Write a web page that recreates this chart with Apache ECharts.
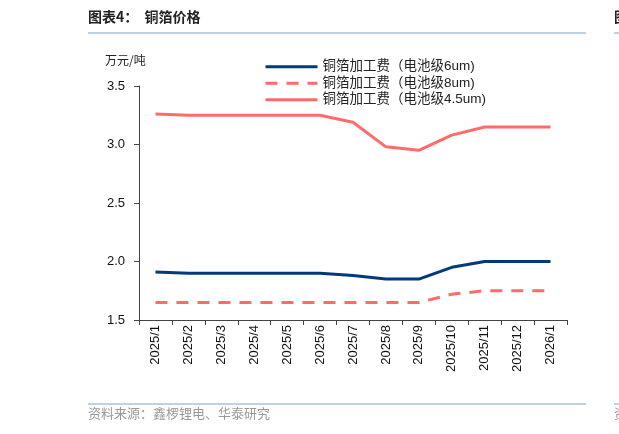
<!DOCTYPE html>
<html>
<head>
<meta charset="utf-8">
<script src="https://cdn.jsdelivr.net/npm/echarts@6/dist/echarts.min.js"></script>
<style>
  html, body { margin: 0; padding: 0; background: #fff; }
  #chart { width: 619px; height: 434px; }
</style>
</head>
<body>
<div id="chart"></div>
<script>
// 月份
const months = ['2025/1', '2025/2', '2025/3', '2025/4', '2025/5', '2025/6', '2025/7',
    '2025/8', '2025/9', '2025/10', '2025/11', '2025/12', '2026/1'];

// 铜箔加工费，万元/吨
const fee6um = [1.91, 1.90, 1.90, 1.90, 1.90, 1.90, 1.88, 1.85, 1.85, 1.95, 2.00, 2.00, 2.00];
const fee8um = [1.65, 1.65, 1.65, 1.65, 1.65, 1.65, 1.65, 1.65, 1.65, 1.72, 1.75, 1.75, 1.75];
const fee45um = [3.26, 3.25, 3.25, 3.25, 3.25, 3.25, 3.19, 2.98, 2.95, 3.08, 3.15, 3.15, 3.15];

const seriesNames = ['铜箔加工费（电池级6um)', '铜箔加工费（电池级8um)', '铜箔加工费（电池级4.5um)'];

const FONT = '"Liberation Sans", Arial, "Noto Sans CJK SC", sans-serif';
const NAVY = '#003a7a';
const RED = '#ff6b6b';
const RULE = '#a9c3df';

const chart = echarts.init(document.getElementById('chart'), null, { renderer: 'canvas' });

chart.setOption({
    backgroundColor: '#fff',
    animation: false,
    textStyle: { fontFamily: FONT },
    grid: { left: 139, right: 52, top: 86, bottom: 114 },
    legend: {
        orient: 'vertical',
        left: 259,
        top: 55,
        itemWidth: 52,
        itemHeight: 14,
        itemGap: 3,
        data: seriesNames,
        // 图例只画线，不画圆点
        itemStyle: { opacity: 0 },
        lineStyle: { width: 3 },
        textStyle: { fontSize: 13.5, color: '#222', fontFamily: FONT }
    },
    xAxis: {
        type: 'category',
        data: months,
        axisLine: { lineStyle: { color: '#444', width: 1 } },
        axisTick: { show: true, length: 5, lineStyle: { color: '#444' } },
        axisLabel: { rotate: 90, fontSize: 13, color: '#111', margin: 5 }
    },
    yAxis: {
        type: 'value',
        min: 1.5,
        max: 3.5,
        interval: 0.5,
        splitLine: { show: false },
        axisLine: { show: true, lineStyle: { color: '#444', width: 1 } },
        axisTick: { show: true, length: 5, lineStyle: { color: '#444' } },
        axisLabel: {
            fontSize: 13,
            color: '#111',
            margin: 14,
            formatter: v => v.toFixed(1)
        }
    },
    series: [
        {
            name: seriesNames[0],
            type: 'line',
            data: fee6um,
            symbol: 'none',
            lineStyle: { color: NAVY, width: 3 },
            itemStyle: { color: NAVY }
        },
        {
            name: seriesNames[1],
            type: 'line',
            data: fee8um,
            symbol: 'none',
            lineStyle: { color: RED, width: 3, type: [12, 9] },
            itemStyle: { color: RED }
        },
        {
            name: seriesNames[2],
            type: 'line',
            data: fee45um,
            symbol: 'none',
            lineStyle: { color: RED, width: 3 },
            itemStyle: { color: RED }
        }
    ],
    graphic: [
        // 标题
        {
            type: 'text', left: 88, top: 10,
            style: { text: '图表4：  铜箔价格', font: 'bold 14px "Noto Sans CJK SC", sans-serif', fill: '#222' }
        },
        {
            type: 'text', left: 614, top: 10,
            style: { text: '图', font: 'bold 14px "Noto Sans CJK SC", sans-serif', fill: '#222' }
        },
        { type: 'line', shape: { x1: 88, y1: 33, x2: 586, y2: 33 }, style: { stroke: RULE, lineWidth: 1.5 } },
        { type: 'line', shape: { x1: 614, y1: 33, x2: 619, y2: 33 }, style: { stroke: RULE, lineWidth: 1.5 } },
        // 单位
        {
            type: 'text', left: 105, top: 54,
            style: { text: '万元/吨', font: '12px "Noto Sans CJK SC", sans-serif', fill: '#222' }
        },
        // 资料来源
        { type: 'line', shape: { x1: 88, y1: 404, x2: 586, y2: 404 }, style: { stroke: RULE, lineWidth: 1.5 } },
        { type: 'line', shape: { x1: 614, y1: 404, x2: 619, y2: 404 }, style: { stroke: RULE, lineWidth: 1.5 } },
        {
            type: 'text', left: 88, top: 407,
            style: { text: '资料来源：鑫椤锂电、华泰研究', font: '13px "Noto Sans CJK SC", sans-serif', fill: '#999' }
        },
        {
            type: 'text', left: 614, top: 407,
            style: { text: '资', font: '13px "Noto Sans CJK SC", sans-serif', fill: '#999' }
        }
    ]
});
</script>
</body>
</html>
